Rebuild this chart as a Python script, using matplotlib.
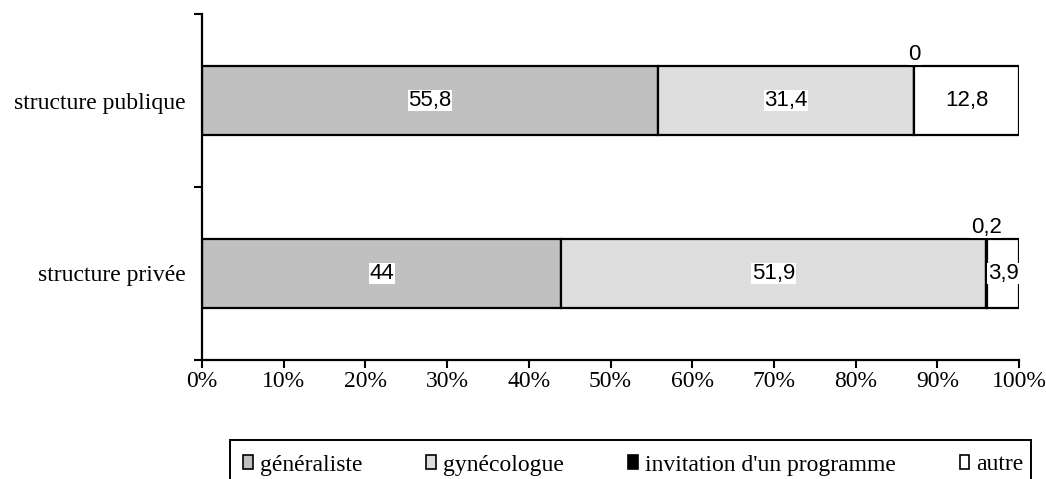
import matplotlib
matplotlib.use("Agg")
import matplotlib.pyplot as plt
from matplotlib.patches import Patch, Rectangle

categories = ["structure privée", "structure publique"]
series = ["généraliste", "gynécologue", "invitation d'un programme", "autre"]
generaliste = [44.0, 55.8]
gynecologue = [51.9, 31.4]
invitation = [0.2, 0.0]
autre = [3.9, 12.8]
value_labels = {
    "généraliste": ["44", "55,8"],
    "gynécologue": ["51,9", "31,4"],
    "invitation d'un programme": ["0,2", "0"],
    "autre": ["3,9", "12,8"],
}
xtick_values = [0, 10, 20, 30, 40, 50, 60, 70, 80, 90, 100]
xtick_labels = ["0%", "10%", "20%", "30%", "40%", "50%", "60%", "70%", "80%", "90%", "100%"]

colors = ["#C0C0C0", "#DEDEDE", "#000000", "#FFFFFF"]
serif = ["Liberation Serif", "DejaVu Serif"]
sans = ["Liberation Sans", "DejaVu Sans"]

W, H = 1046, 479
fig = plt.figure(figsize=(W / 100, H / 100), dpi=100)
ax = fig.add_axes([202 / W, 1 - 360 / H, (1019 - 202) / W, (360 - 14) / H])

data = [generaliste, gynecologue, invitation, autre]
ypos = [0, 1]
left = [0.0, 0.0]
bar_h = 0.4
for name, vals, col in zip(series, data, colors):
    ax.barh(ypos, vals, left=left, height=bar_h, color=col,
            edgecolor="black", linewidth=1.6, label=name, zorder=2)
    for i, (v, l, txt) in enumerate(zip(vals, left, value_labels[name])):
        box = dict(facecolor="white", edgecolor="none", pad=0.3)
        if name == "invitation d'un programme":
            # thin segments: label sits above the bar
            ax.text(l + v / 2, ypos[i] + bar_h / 2 + 0.005, txt, ha="center", va="bottom",
                    fontsize=16, family=sans, zorder=4, bbox=box)
        else:
            ax.text(l + v / 2, ypos[i], txt, ha="center", va="center",
                    fontsize=16, family=sans, zorder=4, bbox=box)
    left = [a + b for a, b in zip(left, vals)]

ax.set_xlim(0, 100)
ax.set_ylim(-0.5, 1.5)
ax.set_xticks(xtick_values)
ax.set_xticklabels(xtick_labels, family=serif, fontsize=17)
ax.set_yticks([-0.5, 0.5, 1.5])
ax.set_yticklabels([])
ax.set_yticks(ypos, minor=True)
ax.set_yticklabels(categories, minor=True, family=serif, fontsize=17)
ax.tick_params(axis="y", which="minor", length=0, pad=12)
ax.tick_params(axis="y", which="major", length=6, width=1.5, direction="out")
ax.tick_params(axis="x", length=6, width=1.5, direction="out", pad=2)
for s in ["top", "right"]:
    ax.spines[s].set_visible(False)
for s in ["left", "bottom"]:
    ax.spines[s].set_linewidth(1.6)

# legend box running off the bottom edge of the figure
fig.patches.append(Rectangle((230 / W, -20 / H), (1031 - 230) / W, (H - 440 + 20) / H,
                             transform=fig.transFigure, facecolor="none",
                             edgecolor="black", linewidth=1.4, zorder=1))
handles = [Patch(facecolor=c, edgecolor="black", linewidth=1.2) for c in colors]
leg = fig.legend(handles, series, loc="center left", ncol=4,
                 bbox_to_anchor=(243 / W, 1 - 465 / H),
                 frameon=False, prop={"family": serif, "size": 17},
                 handlelength=0.42, handleheight=0.5, handletextpad=0.3,
                 columnspacing=2.7, borderaxespad=0, borderpad=0)

fig.savefig("out.png", dpi=100, facecolor="white")
